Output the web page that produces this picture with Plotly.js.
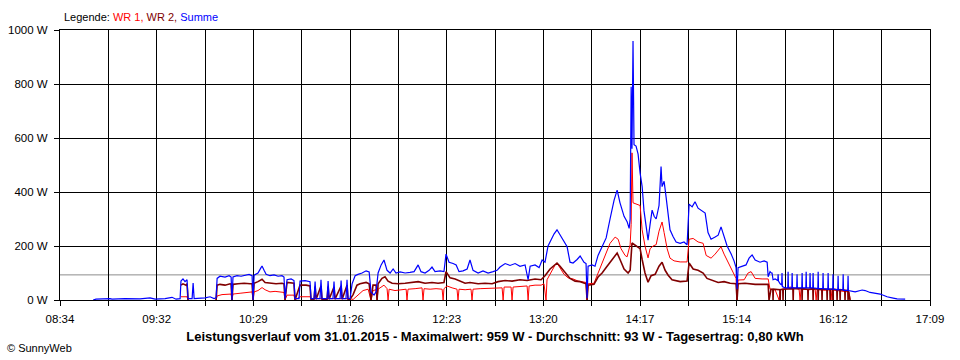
<!DOCTYPE html>
<html>
<head>
<meta charset="utf-8">
<script src="https://cdn.plot.ly/plotly-3.0.1.min.js"></script>
<style>
html,body{margin:0;padding:0;background:#fff;}
#chart{width:960px;height:360px;}
</style>
</head>
<body>
<div id="chart"></div>
<script>
// ---- tick labels (time axis) ----
const xTickLabels = ["08:34","09:32","10:29","11:26","12:23","13:20","14:17","15:14","16:12","17:09"];
const yTickValues = [0, 200, 400, 600, 800, 1000];
const averageW = 93; // Durchschnitt
const titleText = "Leistungsverlauf vom 31.01.2015 - Maximalwert: 959 W - Durchschnitt: 93 W - Tagesertrag: 0,80 kWh";

// ---- Summe (minutes after midnight, W) ----
const summeT = [533.6,535.3,543.6,544.8,552.5,561.4,567.3,570.3,576.2,580.3,582.7,585.1,585.6,586.8,588.0,589.2,589.8,592.2,592.8,593.4,
599.9,602.8,605.2,606.4,607.0,608.7,611.7,614.1,615.3,615.8,616.4,618.8,621.2,623.5,625.9,627.7,628.3,628.9,631.2,633.0,
633.6,634.8,636.0,638.3,640.7,643.1,645.4,646.6,647.2,648.4,650.8,652.5,653.1,655.5,656.1,659.1,662.0,662.6,664.4,665.0,
665.6,667.9,668.5,669.1,672.1,672.7,673.3,675.6,676.2,676.8,679.8,680.4,681.0,683.3,683.9,684.5,685.7,686.9,688.7,690.4,
692.8,695.2,697.0,698.1,699.9,701.1,702.3,704.1,705.8,707.6,709.4,711.2,712.9,715.3,718.3,721.2,723.6,726.0,727.7,730.1,
732.5,734.2,736.0,739.0,741.3,742.5,744.3,746.7,748.5,750.2,752.6,755.0,756.7,758.5,761.5,764.4,767.4,770.4,772.7,774.5,
777.5,780.4,783.4,786.3,789.3,791.1,792.3,795.2,797.6,799.4,801.1,802.9,804.7,806.5,808.2,810.0,812.4,814.2,815.9,817.7,
820.1,821.9,824.2,825.4,826.0,826.6,829.0,830.7,832.5,834.9,837.3,839.6,842.0,843.8,845.5,847.9,849.7,850.9,851.5,852.1,
852.6,853.2,853.8,855.0,856.2,857.4,858.6,859.7,860.9,862.1,863.3,864.5,865.7,866.9,868.6,869.8,870.4,871.6,872.8,874.0,
875.1,876.9,878.7,881.1,883.4,885.2,886.4,888.2,889.9,891.7,894.1,895.9,897.6,899.4,901.8,903.6,905.3,906.5,908.9,911.3,
913.0,914.2,914.8,915.4,917.8,920.1,921.9,923.7,925.5,928.4,930.8,932.6,933.2,934.3,935.0,935.5,936.1,937.3,938.9,939.1,
939.3,940.3,941.2,941.4,941.6,943.2,944.8,945.0,945.2,947.2,947.4,947.6,950.1,950.3,950.5,953.1,953.3,953.5,955.5,955.7,
955.9,957.8,958.0,958.2,959.6,959.8,960.0,962.6,962.8,963.0,965.5,965.7,965.9,968.5,968.7,968.9,971.4,971.6,971.8,974.4,
974.6,974.8,977.4,977.6,977.8,980.3,980.5,980.7,984.7,988.8,990.6,993.5,999.5,1003.6,1007.2,1009.5,1014.3];
const summeW = [0,3,5,3,5,4,8,3,5,10,3,5,70,78,68,75,5,5,63,5,
8,12,5,8,80,88,85,90,85,0,85,90,88,92,95,90,0,92,100,120,
126,110,95,90,93,88,90,85,5,75,78,72,5,5,70,72,68,5,5,68,
5,5,75,5,5,70,5,5,68,5,5,72,5,5,75,5,5,60,90,95,
100,108,104,30,18,30,100,130,148,110,100,115,100,104,100,102,105,130,105,100,
110,122,105,108,105,170,140,135,130,105,108,115,148,110,100,108,100,105,110,122,
135,128,135,125,130,75,125,130,120,148,140,200,225,245,260,240,215,197,140,137,
150,163,140,135,7,125,130,125,165,200,230,300,370,407,360,310,290,265,300,790,
560,959,575,570,540,470,420,330,270,222,280,333,310,300,350,494,420,440,380,320,
260,235,215,210,215,204,355,345,364,340,330,322,250,225,233,240,271,250,200,170,
145,120,40,120,125,130,155,167,148,140,145,140,86,105,100,100,75,78,72,95,
70,60,55,100,50,45,45,105,45,45,100,45,45,95,45,45,100,45,45,105,
45,45,100,45,45,100,45,42,105,42,42,100,42,40,100,40,40,95,40,38,
90,38,38,95,36,36,90,35,30,37,35,28,22,12,7,4,3];

// ---- WR 1 ----
const wr1T = [585.6,589.2,589.8,590.0,606.4,607.0,609.9,613.5,615.3,615.8,616.4,620.6,625.3,627.7,628.3,628.9,631.2,633.6,635.4,638.3,
641.3,644.3,646.6,647.2,648.4,652.5,653.1,656.1,662.0,662.6,685.7,687.5,689.8,693.4,696.4,698.1,699.3,701.1,701.7,702.3,
705.8,707.6,708.2,708.8,712.3,715.3,718.9,719.4,720.0,724.2,728.3,728.9,729.5,733.1,736.6,740.2,740.8,741.3,743.1,746.1,
749.0,749.6,750.2,753.8,757.3,757.9,758.5,762.7,767.4,771.5,775.7,776.3,776.9,781.0,781.6,782.2,786.3,790.5,791.1,791.7,
795.2,798.8,800.5,801.7,802.3,804.7,807.1,808.2,810.0,812.4,814.8,817.7,820.7,823.6,825.4,826.0,826.6,830.1,832.5,834.9,
837.3,839.6,842.6,844.4,846.1,848.5,849.7,851.5,852.1,852.6,853.2,855.0,857.4,858.6,860.3,862.1,863.3,865.1,866.9,868.6,
870.4,871.6,873.4,875.1,877.5,881.1,885.2,886.4,888.8,891.7,894.7,896.5,899.4,901.8,904.2,905.3,907.1,909.5,911.8,913.6,
914.2,914.8,915.4,919.0,921.3,923.1,925.5,929.6,933.2,934.3,937.3,939.7,940.3,943.8,946.2,948.6,951.5,952.1,952.7,957.4,
961.0,961.6,962.2,966.9,970.4,971.0,971.6,976.4,981.1,981.7];
const wr1W = [12,12,0,null,0,15,20,22,22,0,22,25,28,30,0,30,35,46,38,30,
32,30,28,0,18,18,0,12,12,5,5,2,15,35,40,0,35,38,0,40,
55,42,0,40,35,38,40,0,40,42,45,0,42,40,42,40,0,42,52,45,
40,0,40,38,40,0,40,42,44,45,45,0,48,48,0,48,50,52,0,52,
55,55,60,0,75,105,130,137,120,95,82,78,70,68,65,0,60,62,100,135,
175,210,233,225,190,165,160,205,280,545,360,355,350,260,200,156,190,200,205,255,
289,250,190,155,145,141,141,225,228,215,210,165,155,170,190,197,170,140,115,90,
80,0,74,75,100,105,80,78,78,40,38,0,38,42,48,44,40,0,40,38,
40,0,38,36,38,0,37,33,30,0];

// ---- WR 2 ----
const wr2T = [585.6,586.8,588.6,589.2,589.8,590.0,606.4,607.0,608.7,611.7,614.7,615.3,615.8,616.4,619.4,623.0,626.5,627.7,628.3,628.9,
631.2,633.6,635.4,638.3,641.9,645.4,646.6,647.2,648.4,652.5,653.1,656.1,659.7,662.0,662.6,664.4,665.0,665.6,668.5,669.1,
672.1,672.7,673.3,676.2,676.8,680.4,681.0,683.9,684.5,685.7,687.5,689.8,691.6,695.2,697.0,698.1,699.3,701.1,701.7,702.3,
704.6,706.4,708.2,710.6,714.1,718.3,722.4,726.0,730.1,734.2,737.8,741.3,742.5,744.9,747.9,750.8,753.8,756.7,761.5,765.6,
769.8,773.3,777.5,781.6,786.3,790.5,795.2,798.8,801.1,804.1,806.5,808.2,810.0,813.0,815.9,818.9,821.9,825.4,826.0,826.6,
830.1,832.5,834.9,837.3,839.6,842.0,843.8,845.5,847.9,850.3,851.5,852.6,855.0,857.4,858.6,860.3,862.1,863.9,866.3,868.6,
870.4,872.2,874.0,876.3,881.1,885.2,886.4,888.8,891.7,894.7,897.0,900.0,903.6,907.1,910.7,914.2,914.8,915.4,919.5,925.5,
931.4,933.2,933.7,934.9,935.95,936.1,936.25,940.15,940.3,940.45,941.85,942.0,942.15,947.85,948.0,948.15,953.15,953.3,953.45,956.65,
956.8,956.95,959.65,959.8,959.95,962.65,962.8,962.95,964.95,965.1,965.25,967.95,968.1,968.25,969.75,969.9,970.05,971.45,971.6,971.75,
973.85,974.0,974.15,975.65,975.8,975.95,978.55,978.7,978.85,980.35,980.5,980.65,981.7];
const wr2W = [55,60,55,60,0,null,0,55,58,55,60,58,0,58,60,62,60,60,0,62,
68,77,65,62,60,62,60,0,65,62,0,55,55,52,0,3,50,3,52,3,
3,50,3,48,3,52,3,55,3,3,20,55,60,65,60,0,55,55,0,60,
80,86,70,62,60,62,65,68,62,65,62,65,105,82,78,70,62,65,60,62,
60,68,72,70,75,72,78,75,90,115,130,137,125,100,80,70,68,60,0,55,
58,85,100,120,140,160,174,150,115,100,110,211,200,190,150,100,66,90,95,125,
140,110,92,75,68,70,137,115,110,100,80,72,65,68,62,60,0,60,62,58,
60,58,0,40,40,0,40,38,0,38,40,0,40,42,0,42,42,0,42,40,
0,40,42,0,42,40,0,40,40,0,40,40,0,40,40,0,40,40,0,40,
38,0,38,38,0,38,36,0,36,35,0,35,0];

// ---- axis helpers ----
function toMin(s){ const p = s.split(":"); return (+p[0])*60 + (+p[1]); }
const xStart = toMin(xTickLabels[0]);
const xEnd = toMin(xTickLabels[xTickLabels.length-1]);
const nGrid = (xTickLabels.length-1)*2;
const xTickVals = [], xTickText = [];
for (let i = 0; i <= nGrid; i++) {
  xTickVals.push(xStart + i*(xEnd-xStart)/nGrid);
  xTickText.push(i % 2 === 0 ? xTickLabels[i/2] : "");
}
const yTickText = yTickValues.map(v => v + " W");

const fontFam = "Liberation Sans, Arial, sans-serif";

const traces = [
  {x: wr1T, y: wr1W, type: "scatter", mode: "lines", name: "WR 1",
   line: {color: "#ff0000", width: 1}, connectgaps: false},
  {x: wr2T, y: wr2W, type: "scatter", mode: "lines", name: "WR 2",
   line: {color: "#800000", width: 1.6}, connectgaps: false},
  {x: summeT, y: summeW, type: "scatter", mode: "lines", name: "Summe",
   line: {color: "#0000ff", width: 1.2}, connectgaps: false}
];

const layout = {
  width: 960, height: 360,
  margin: {l: 60, r: 30, t: 30, b: 60, pad: 0},
  paper_bgcolor: "#ffffff", plot_bgcolor: "#ffffff",
  showlegend: false,
  hovermode: false,
  font: {family: fontFam, size: 11, color: "#000"},
  title: {
    text: "<b>" + titleText + "</b>",
    font: {family: fontFam, size: 13, color: "#000"},
    xref: "paper", x: 0.5, xanchor: "center",
    yref: "container", y: (360-336)/360, yanchor: "middle"
  },
  xaxis: {
    range: [xStart, xEnd], type: "linear",
    tickmode: "array", tickvals: xTickVals, ticktext: xTickText,
    ticks: "outside", ticklen: 5, tickcolor: "#000", tickwidth: 1,
    ticklabelstandoff: 3,
    showgrid: true, gridcolor: "#000", gridwidth: 1,
    showline: true, linecolor: "#000", linewidth: 1, mirror: true,
    zeroline: false, fixedrange: true,
    tickfont: {family: fontFam, size: 11.5, color: "#000"}
  },
  yaxis: {
    range: [0, 1000],
    tickmode: "array", tickvals: yTickValues, ticktext: yTickText,
    ticks: "outside", ticklen: 5, tickcolor: "#000", tickwidth: 1,
    ticklabelstandoff: 4,
    showgrid: true, gridcolor: "#000", gridwidth: 1,
    showline: true, linecolor: "#000", linewidth: 1, mirror: true,
    zeroline: false, fixedrange: true,
    tickfont: {family: fontFam, size: 11.5, color: "#000"}
  },
  shapes: [{
    type: "line", xref: "paper", x0: 0, x1: 1, yref: "y", y0: averageW, y1: averageW,
    line: {color: "#8c8c8c", width: 1}, layer: "below"
  }],
  annotations: [
    {xref: "paper", yref: "paper", x: (62-60)/870, y: (300-17)/270,
     xanchor: "left", yanchor: "middle", showarrow: false,
     font: {family: fontFam, size: 11, color: "#000"},
     text: 'Legende: <span style="color:#ff0000">WR 1,</span> <span style="color:#800000">WR 2,</span> <span style="color:#0000ff">Summe</span>'},
    {xref: "paper", yref: "paper", x: (5-60)/870, y: (300-348)/270,
     xanchor: "left", yanchor: "middle", showarrow: false,
     font: {family: fontFam, size: 11, color: "#000"},
     text: "© SunnyWeb"}
  ]
};

Plotly.newPlot("chart", traces, layout, {displayModeBar: false, staticPlot: true});
</script>
</body>
</html>
